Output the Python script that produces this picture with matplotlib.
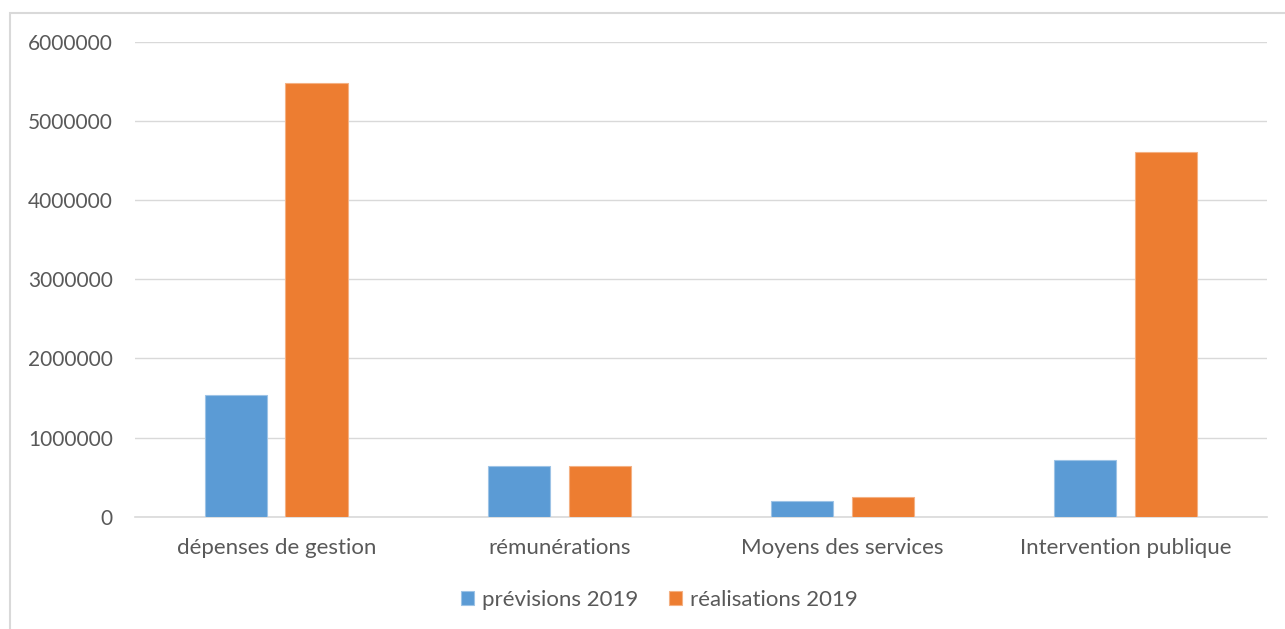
import matplotlib.pyplot as plt
import numpy as np
from matplotlib.patches import Rectangle

categories = ["dépenses de gestion", "rémunérations", "Moyens des services", "Intervention publique"]
previsions = [1540000, 640000, 195000, 717000]
realisations = [5487000, 640000, 249000, 4614000]
series_names = ["prévisions 2019", "réalisations 2019"]
yticks = [0, 1000000, 2000000, 3000000, 4000000, 5000000, 6000000]

blue = "#5B9BD5"
orange = "#ED7D31"
text_gray = "#595959"
grid_gray = "#D9D9D9"

plt.rcParams["font.family"] = ["Lato", "DejaVu Sans"]

fig = plt.figure(figsize=(12.85, 6.29), dpi=100)
ax = fig.add_axes([0.105, 0.1785, 0.881, 0.7547])

x = np.arange(len(categories))
w = 0.222
off = 0.143
ax.bar(x - off, previsions, w, color=blue, edgecolor="#9DC3E6", linewidth=0.8,
       label=series_names[0], zorder=3)
ax.bar(x + off, realisations, w, color=orange, edgecolor="#F4B183", linewidth=0.8,
       label=series_names[1], zorder=3)

ax.set_xlim(-0.5, len(categories) - 0.5)
ax.set_ylim(0, 6000000)
ax.set_yticks(yticks)
ax.set_yticklabels([str(v) for v in yticks])
ax.set_xticks(x)
ax.set_xticklabels(categories)

ax.grid(axis="y", color=grid_gray, linewidth=1.0, zorder=0)
for side in ["left", "right", "top"]:
    ax.spines[side].set_visible(False)
ax.spines["bottom"].set_color(grid_gray)
ax.spines["bottom"].set_linewidth(1.2)
ax.tick_params(axis="both", length=0, labelcolor=text_gray)
ax.tick_params(axis="y", pad=16, labelsize=15)
ax.tick_params(axis="x", pad=15, labelsize=16)

fig.legend(loc="center", bbox_to_anchor=(0.513, 0.046), ncol=2, frameon=False,
           fontsize=16, labelcolor=text_gray, handlelength=0.6, handleheight=0.6,
           handletextpad=0.35, columnspacing=1.4)

# outer chart frame
fig.patches.append(Rectangle((10 / 1285, -0.1), 1.2, 1 - 13 / 629 + 0.1,
                             transform=fig.transFigure, fill=False,
                             edgecolor=grid_gray, linewidth=1.5))

fig.savefig("out.png", dpi=100)
